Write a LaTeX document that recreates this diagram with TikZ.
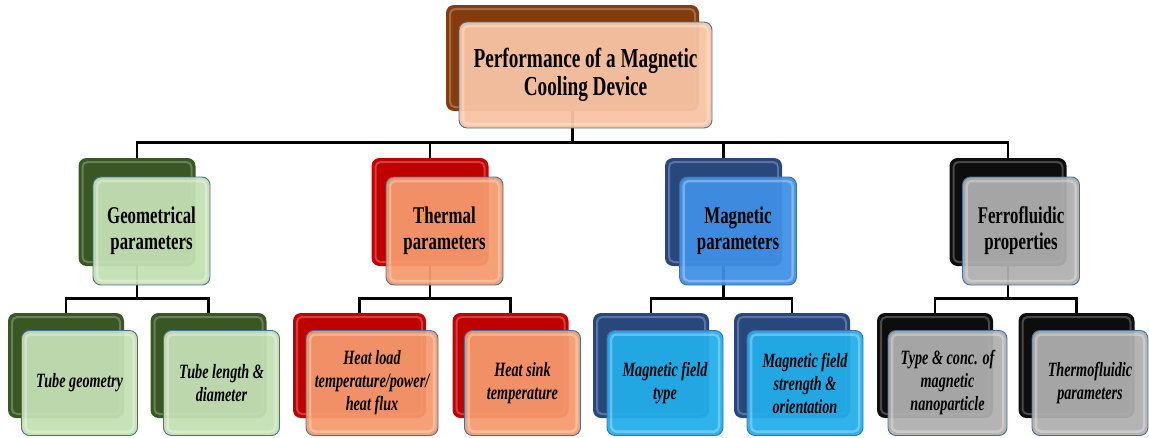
\documentclass[tikz,border=0pt]{standalone}
\usepackage{fontspec}
\setmainfont{Liberation Serif}
\newfontfamily\narrowfont[FakeStretch=0.7]{Liberation Serif}
\definecolor{topback}{HTML}{843C0C}
\definecolor{topfront}{HTML}{F8C4A4}
\definecolor{geoback}{HTML}{385723}
\definecolor{geofront}{HTML}{C5E0B4}
\definecolor{thermback}{HTML}{C00000}
\definecolor{thermfront}{HTML}{F59A6E}
\definecolor{magback}{HTML}{27477D}
\definecolor{magfront}{HTML}{3F8FE6}
\definecolor{magleaf}{HTML}{22AEEA}
\definecolor{ferroback}{HTML}{0D0D0D}
\definecolor{ferrofront}{HTML}{AFAFAF}
\definecolor{edgeblue}{HTML}{41719C}

\begin{document}
\begin{tikzpicture}[x=1pt,y=-1pt,line cap=round,line join=round,
  backbox/.style={rounded corners=8pt,fill=#1,minimum width=117pt,minimum height=106pt,
    path picture={\draw[white,opacity=0.25,line width=2pt,rounded corners=5pt]
      ([shift={(4pt,4pt)}]path picture bounding box.south west) rectangle
      ([shift={(-4pt,-4pt)}]path picture bounding box.north east);}},
  frontbox/.style={rounded corners=8pt,fill=#1,fill opacity=0.94,text opacity=1,
    draw=edgeblue,line width=0.9pt,minimum width=117pt,minimum height=106pt,align=center,
    path picture={\draw[white,opacity=0.3,line width=2.5pt,rounded corners=5pt]
      ([shift={(4pt,4pt)}]path picture bounding box.south west) rectangle
      ([shift={(-4pt,-4pt)}]path picture bounding box.north east);}},
  rootfont/.style={font=\narrowfont\bfseries\fontsize{27.5}{28}\selectfont},
  midfont/.style={font=\narrowfont\bfseries\fontsize{24}{26}\selectfont},
  leaffont/.style={font=\narrowfont\bfseries\itshape\fontsize{20.3}{23}\selectfont},
  link/.style={line width=2.8pt,line cap=butt,line join=miter}]
  \useasboundingbox (0,0) rectangle (1149,437);

  \node[backbox=topback,minimum width=253pt] (top-b) at (572.5,58) {};
  \node[backbox=geoback,minimum height=108pt] (geo-b) at (137,212) {};
  \node[backbox=thermback,minimum height=108pt] (therm-b) at (430,212) {};
  \node[backbox=magback,minimum height=108pt] (mag-b) at (723.5,212) {};
  \node[backbox=ferroback,minimum height=108pt] (ferro-b) at (1008,212) {};
  \node[backbox=geoback,minimum width=116pt,minimum height=105pt] (tubegeo-b) at (66,365.5) {};
  \node[backbox=geoback,minimum width=116pt,minimum height=105pt] (tubelen-b) at (208.5,365.5) {};
  \node[backbox=thermback,minimum width=133pt,minimum height=105pt] (heatload-b) at (359.5,365.5) {};
  \node[backbox=thermback,minimum width=116pt,minimum height=105pt] (heatsink-b) at (510.5,365.5) {};
  \node[backbox=magback,minimum width=116pt,minimum height=105pt] (fieldtype-b) at (651,365.5) {};
  \node[backbox=magback,minimum width=116pt,minimum height=105pt] (fieldstr-b) at (792,365.5) {};
  \node[backbox=ferroback,minimum width=116pt,minimum height=105pt] (nanoconc-b) at (935,365.5) {};
  \node[backbox=ferroback,minimum width=116pt,minimum height=105pt] (thermofl-b) at (1076.5,365.5) {};

  \draw[link] (top-b.south) -- ++(0,31) -| (geo-b.north);
  \draw[link] (top-b.south) -- ++(0,31) -| (therm-b.north);
  \draw[link] (top-b.south) -- ++(0,31) -| (mag-b.north);
  \draw[link] (top-b.south) -- ++(0,31) -| (ferro-b.north);
  \draw[link] (geo-b.south) -- ++(0,32) -| (tubegeo-b.north);
  \draw[link] (geo-b.south) -- ++(0,32) -| (tubelen-b.north);
  \draw[link] (therm-b.south) -- ++(0,32) -| (heatload-b.north);
  \draw[link] (therm-b.south) -- ++(0,32) -| (heatsink-b.north);
  \draw[link] (mag-b.south) -- ++(0,32) -| (fieldtype-b.north);
  \draw[link] (mag-b.south) -- ++(0,32) -| (fieldstr-b.north);
  \draw[link] (ferro-b.south) -- ++(0,32) -| (nanoconc-b.north);
  \draw[link] (ferro-b.south) -- ++(0,32) -| (thermofl-b.north);

  \node[frontbox=topfront,rootfont,minimum width=253pt] (top) at (585.5,75)
    {Performance of a Magnetic\\Cooling Device};
  \node[frontbox=geofront,midfont,minimum height=108pt] (geo) at (151.5,231) {Geometrical\\parameters};
  \node[frontbox=thermfront,midfont,minimum height=108pt] (therm) at (444.5,231) {Thermal\\parameters};
  \node[frontbox=magfront,midfont,minimum height=108pt] (mag) at (738,231) {Magnetic\\parameters};
  \node[frontbox=ferrofront,midfont,minimum height=108pt] (ferro) at (1021,231) {Ferrofluidic\\properties};
  \node[frontbox=geofront,leaffont,minimum width=116pt,minimum height=105pt] (tubegeo) at (79.5,383) {Tube geometry};
  \node[frontbox=geofront,leaffont,minimum width=116pt,minimum height=105pt] (tubelen) at (221.5,383) {Tube length \&\\diameter};
  \node[frontbox=thermfront,leaffont,minimum width=132pt,minimum height=105pt] (heatload) at (372,383)
    {Heat load\\temperature/power/\\heat flux};
  \node[frontbox=thermfront,leaffont,minimum width=116pt,minimum height=105pt] (heatsink) at (522.5,383) {Heat sink\\temperature};
  \node[frontbox=magleaf,leaffont,minimum width=116pt,minimum height=105pt] (fieldtype) at (665,383) {Magnetic field\\type};
  \node[frontbox=magleaf,leaffont,minimum width=116pt,minimum height=105pt] (fieldstr) at (805,383)
    {Magnetic field\\strength \&\\orientation};
  \node[frontbox=ferrofront,leaffont,minimum width=119pt,minimum height=105pt] (nanoconc) at (947.5,383)
    {Type \& conc. of\\magnetic\\nanoparticle};
  \node[frontbox=ferrofront,leaffont,minimum width=116pt,minimum height=105pt] (thermofl) at (1090,383) {Thermofluidic\\parameters};
\end{tikzpicture}
\end{document}
